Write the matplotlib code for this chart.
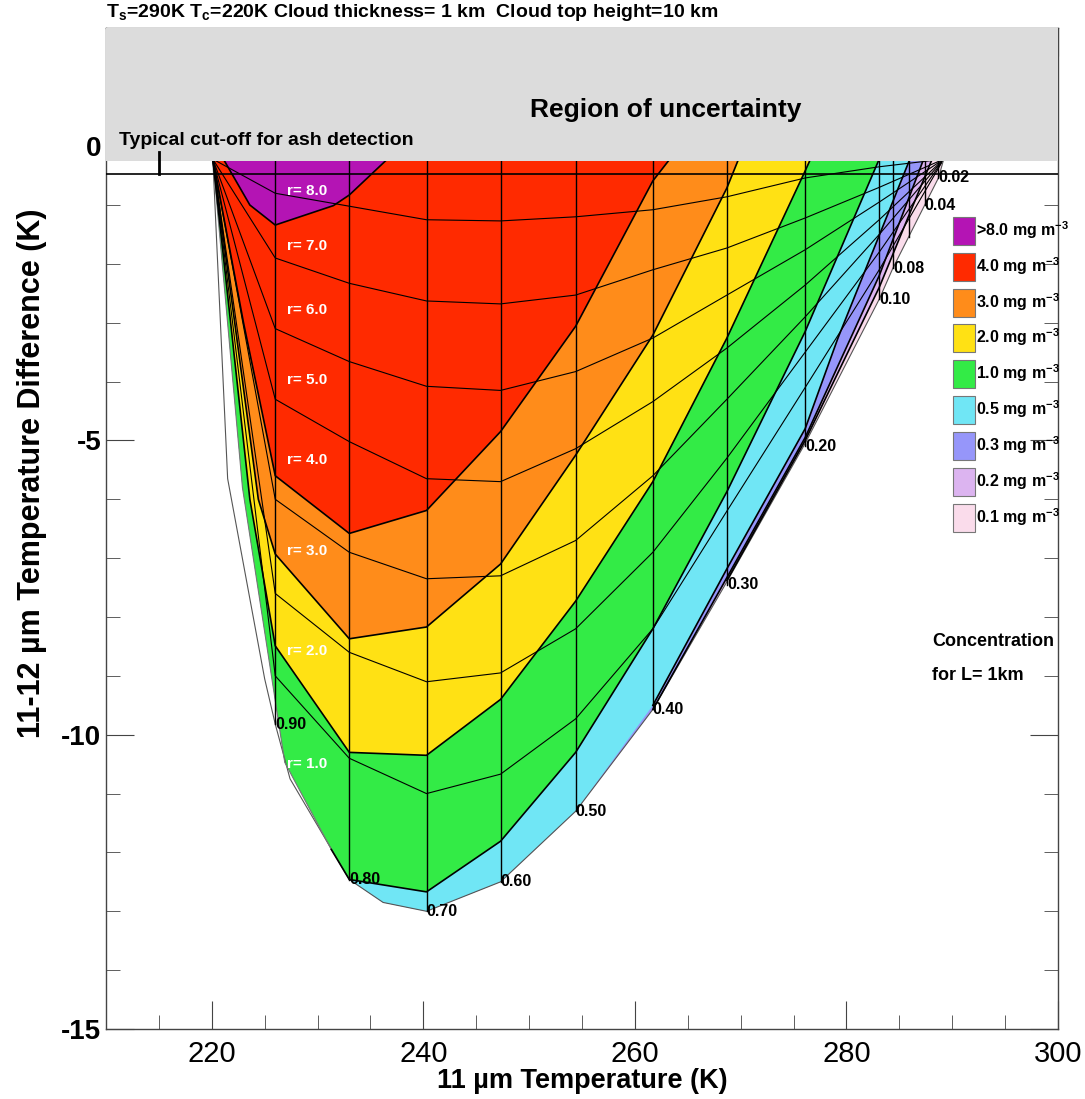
import matplotlib
matplotlib.use('Agg')
import matplotlib.pyplot as plt
from matplotlib.patches import Patch
from matplotlib.ticker import MultipleLocator

plt.rcParams['font.family'] = ['Liberation Sans', 'DejaVu Sans']
plt.rcParams['font.weight'] = 'bold'
plt.rcParams['axes.unicode_minus'] = False
plt.rcParams['mathtext.fontset'] = 'custom'
plt.rcParams['mathtext.rm'] = 'Liberation Sans:bold'
plt.rcParams['mathtext.bf'] = 'Liberation Sans:bold'
plt.rcParams['mathtext.it'] = 'Liberation Sans:bold'
plt.rcParams['mathtext.default'] = 'bf'

# ---- data ----
grayBottom = -0.26          # lower edge of the "region of uncertainty"
cutOff = -0.48              # typical ash cut-off line

# constant 11 um emissivity lines (x position, lower end)
epsLabels = ['0.90', '0.80', '0.70', '0.60', '0.50', '0.40', '0.30', '0.20', '0.10', '0.08', '', '0.04', '0.02']
epsX = [226.0, 233.0, 240.3, 247.3, 254.4, 261.7, 268.7, 276.1, 283.1, 284.4, 285.9, 287.4, 288.7]
epsBottom = [-9.82, -12.46, -13.0, -12.5, -11.3, -9.57, -7.45, -5.1, -2.6, -2.07, -1.55, -1.0, -0.54]

# constant radius curves, sampled at the emissivity lines
curveX = [220.1, 226.0, 233.0, 240.3, 247.3, 254.4, 261.7, 268.7, 276.1, 283.1, 289.2]
rCurves = [
    [-0.22, -0.80, -1.02, -1.25, -1.27, -1.20, -1.08, -0.86, -0.54, -0.35, -0.22],
    [-0.22, -1.90, -2.33, -2.63, -2.68, -2.53, -2.10, -1.73, -1.22, -0.70, -0.22],
    [-0.22, -3.10, -3.66, -4.08, -4.15, -3.83, -3.26, -2.53, -1.76, -0.95, -0.22],
    [-0.22, -4.30, -5.02, -5.65, -5.70, -5.14, -4.34, -3.43, -2.36, -1.25, -0.22],
    [-0.22, -6.00, -6.90, -7.35, -7.30, -6.70, -5.60, -4.30, -2.90, -1.50, -0.22],
    [-0.22, -7.60, -8.60, -9.10, -8.95, -8.20, -6.90, -5.30, -3.50, -1.80, -0.22],
    [-0.22, -9.00, -10.40, -11.00, -10.67, -9.73, -8.20, -6.20, -4.10, -2.10, -0.22],
]
rLabels = ['r= 8.0', 'r= 7.0', 'r= 6.0', 'r= 5.0', 'r= 4.0', 'r= 3.0', 'r= 2.0', 'r= 1.0']
rLabelY = [-0.76, -1.70, -2.79, -3.98, -5.34, -6.87, -8.58, -10.5]

# outer envelope (thin grey curve)
envX = [220.1, 221.5, 225.0, 226.0, 227.4, 233.0, 236.2, 240.3, 247.3, 254.4, 261.7, 268.7, 276.1, 283.1, 284.4, 287.4, 288.7, 289.2]
envY = [-0.22, -5.65, -9.05, -9.82, -10.75, -12.46, -12.85, -13.0, -12.5, -11.3, -9.57, -7.40, -5.05, -2.6, -2.07, -1.0, -0.54, -0.22]

# left edge of the coloured area
edgeX = [220.1, 222.9, 226.9, 231.3]
edgeY = [-0.22, -5.8, -10.47, -11.95]

# concentration classes
concLabels = ['>8.0 mg m$^{-3}$', '4.0 mg m$^{-3}$', '3.0 mg m$^{-3}$', '2.0 mg m$^{-3}$', '1.0 mg m$^{-3}$',
              '0.5 mg m$^{-3}$', '0.3 mg m$^{-3}$', '0.2 mg m$^{-3}$', '0.1 mg m$^{-3}$']
concColors = ['#B414B4', '#FF2A00', '#FF8C1A', '#FFE114', '#33EB46', '#70E6F5', '#9696FA', '#DCB4F0', '#FADCEB']

# class boundaries (upper side of each class)
c8X = [221.1, 223.6, 226.0, 231.5, 233.0, 236.6]
c8Y = [-0.22, -1.0, -1.34, -1.01, -0.83, -0.22]
c4X = [220.1, 223.0, 226.0, 233.0, 240.3, 247.3, 254.4, 261.7, 263.3]
c4Y = [-0.22, -3.0, -5.6, -6.58, -6.19, -4.85, -3.06, -0.59, -0.22]
c3X = [220.1, 224.4, 226.0, 233.0, 240.3, 247.3, 254.4, 261.7, 268.7, 269.8]
c3Y = [-0.22, -6.0, -6.93, -8.37, -8.17, -7.1, -5.25, -3.21, -0.71, -0.22]
c2X = [220.1, 223.6, 226.0, 233.0, 240.3, 247.3, 254.4, 261.7, 268.7, 276.1, 276.6]
c2Y = [-0.22, -6.0, -8.49, -10.3, -10.35, -9.4, -7.73, -5.7, -3.26, -0.42, -0.22]
c1X = [231.3, 233.0, 240.3, 247.3, 254.4, 261.7, 268.7, 276.1, 283.1]
c1Y = [-11.95, -12.46, -12.67, -11.81, -10.3, -8.2, -5.87, -3.15, -0.22]
c05X = [261.7, 268.7, 276.1, 279.2, 286.0]
c05Y = [-9.5, -7.18, -4.8, -3.26, -0.22]
c03X = [261.7, 268.7, 276.1, 283.1, 287.3]
c03Y = [-9.57, -7.33, -4.95, -2.2, -0.22]
c02X = [268.7, 276.1, 283.1, 288.1]
c02Y = [-7.38, -5.0, -2.4, -0.22]


def leftEdge(xEnd: float) -> tuple[list[float], list[float]]:
    # coloured-area edge (left strip, then the envelope) up to xEnd
    xs = list(edgeX)
    ys = list(edgeY)
    for x, y in zip(envX, envY):
        if edgeX[-1] < x <= xEnd:
            xs.append(x)
            ys.append(y)
    return xs, ys


def main() -> None:
    fig = plt.figure(figsize=(10.85, 10.99), dpi=100)
    ax = fig.add_axes([0.0977, 0.0637, 0.8774, 0.9104])

    # class polygons, outermost first
    ex, ey = leftEdge(300)
    ax.fill(ex, ey, color=concColors[8], lw=0, zorder=1)
    for color, bx, by in [(concColors[7], c02X, c02Y), (concColors[6], c03X, c03Y),
                          (concColors[5], c05X, c05Y), (concColors[4], c1X, c1Y)]:
        lx, ly = leftEdge(bx[0] - 0.01)
        ax.fill(lx + bx, ly + by, color=color, lw=0, zorder=1)
    for color, bx, by in [(concColors[3], c2X, c2Y), (concColors[2], c3X, c3Y),
                          (concColors[1], c4X, c4Y), (concColors[0], c8X, c8Y)]:
        ax.fill(bx, by, color=color, lw=0, zorder=1)

    # class boundaries
    for bx, by in [(c8X, c8Y), (c4X, c4Y), (c3X, c3Y), (c2X, c2Y), (c1X, c1Y),
                   (c05X, c05Y), (c03X, c03Y), (c02X, c02Y)]:
        ax.plot(bx, by, color='black', lw=1.2, zorder=3)

    # radius curves and envelope
    for ry in rCurves:
        ax.plot(curveX, ry, color='black', lw=0.8, zorder=2)
    ax.plot(envX, envY, color='#555555', lw=0.8, zorder=2)
    ax.plot(edgeX, edgeY, color='#777777', lw=0.8, zorder=2)

    # emissivity lines
    for lab, x, yb in zip(epsLabels, epsX, epsBottom):
        ax.plot([x, x], [yb, grayBottom], color='black', lw=1.0, zorder=2)
        if lab:
            ax.text(x, yb, lab, fontsize=11.5, ha='left', va='center', zorder=6)

    for lab, y in zip(rLabels, rLabelY):
        ax.text(229.0, y, lab, fontsize=11, color='white', ha='center', va='center', zorder=6)

    # region of uncertainty
    ax.axhspan(grayBottom, 2.0, color='#DCDCDC', lw=0, zorder=4)
    ax.axhline(cutOff, color='black', lw=1.2, zorder=5)
    ax.plot([215, 215], [cutOff, -0.1], color='black', lw=2, zorder=5)
    ax.text(211.2, 0.1, 'Typical cut-off for ash detection', fontsize=14, ha='left', va='center', zorder=6)
    ax.text(262.9, 0.62, 'Region of uncertainty', fontsize=19, ha='center', va='center', zorder=6)

    # legend
    handles = [Patch(facecolor=c, edgecolor='#777777', lw=0.8) for c in concColors]
    leg = ax.legend(handles, concLabels, loc='upper left', bbox_to_anchor=(0.8897, 0.8116),
                    frameon=False, fontsize=11.5, handlelength=1.37, handleheight=2.32,
                    handletextpad=0.05, labelspacing=0.49, borderpad=0, borderaxespad=0)
    leg.set_zorder(7)
    ax.text(288.07, -8.41, 'Concentration', fontsize=13, ha='left', va='center')
    ax.text(288.07, -9.0, 'for L= 1km', fontsize=13, ha='left', va='center')

    ax.set_xlim(210, 300)
    ax.set_ylim(-15, 2)
    ax.xaxis.set_major_locator(MultipleLocator(20))
    ax.xaxis.set_minor_locator(MultipleLocator(5))
    ax.yaxis.set_major_locator(MultipleLocator(5))
    ax.yaxis.set_minor_locator(MultipleLocator(1))
    ax.set_xticks([220, 240, 260, 280, 300])
    ax.set_yticks([0, -5, -10, -15])
    ax.tick_params(which='both', direction='in', top=True, right=True, color='#444444')
    ax.tick_params(which='major', length=20)
    ax.tick_params(which='minor', length=10)
    ax.tick_params(axis='y', labelsize=20)
    ax.tick_params(axis='x', labelsize=21, pad=8)
    for lab in ax.get_yticklabels():
        lab.set_fontweight('bold')
    for lab in ax.get_xticklabels():
        lab.set_fontweight('normal')
    for s in ax.spines.values():
        s.set_color('#444444')
        s.set_linewidth(1.0)

    ax.set_xlabel('11 \u00b5m Temperature (K)', fontsize=19.5, fontweight='bold', labelpad=0)
    ax.set_ylabel('11-12 \u00b5m Temperature Difference (K)', fontsize=22, fontweight='bold')
    ax.yaxis.set_label_coords(-0.062, 0.555)
    fig.text(0.0977, 0.989, 'T$_s$=290K T$_c$=220K Cloud thickness= 1 km  Cloud top height=10 km',
             fontsize=14, ha='left', va='center')

    fig.savefig('out.png', dpi=100)


if __name__ == '__main__':
    main()
